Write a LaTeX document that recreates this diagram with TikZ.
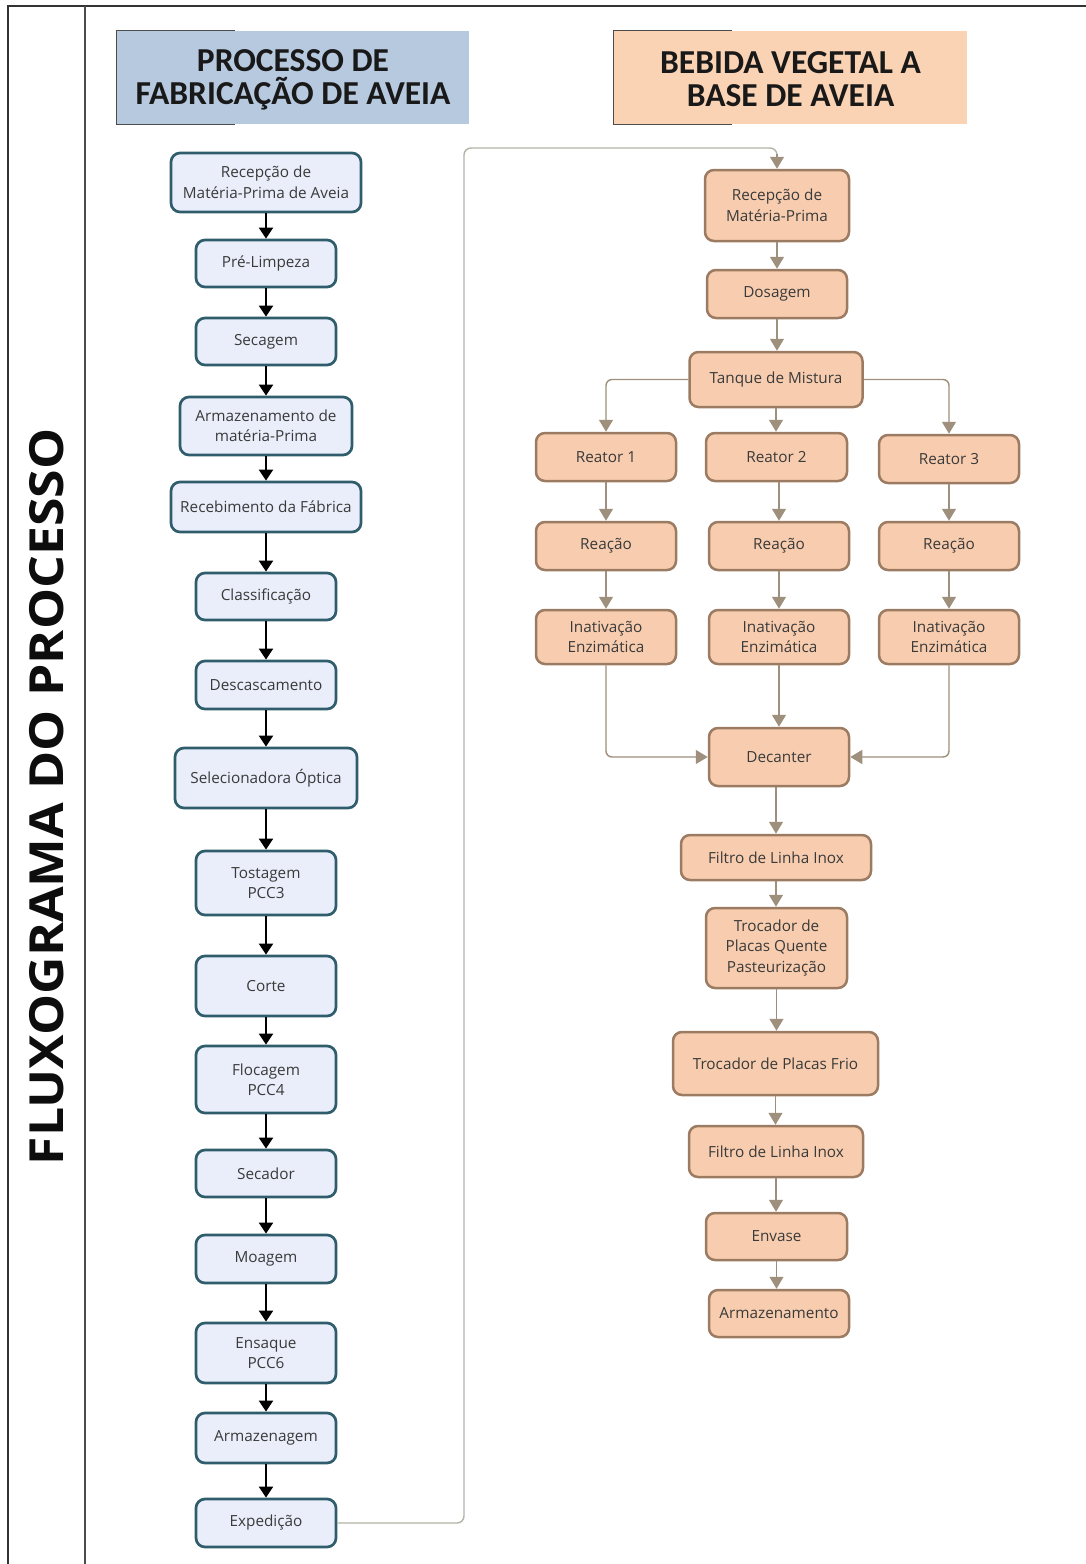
\documentclass[tikz,border=0pt]{standalone}
\usepackage{fontspec}
\setmainfont{Open Sans}
\newfontfamily\hdfont{Carlito}
\usetikzlibrary{arrows.meta}
\definecolor{lfill}{HTML}{E9EEFA}
\definecolor{ldraw}{HTML}{2F5D6B}
\definecolor{rfill}{HTML}{F8CDAF}
\definecolor{rdraw}{HTML}{9C7B63}
\definecolor{rline}{HTML}{9E907C}
\definecolor{hblue}{HTML}{B6C9DF}
\definecolor{hpeach}{HTML}{FAD3B5}
\definecolor{longline}{HTML}{B3B3A8}
\definecolor{txt}{HTML}{3A3A3A}
\tikzset{
  lbox/.style={draw=ldraw, fill=lfill, line width=2.7pt, rounded corners=9pt, align=center,
    font=\fontsize{15.3}{20.5}\selectfont, text=txt, inner sep=0pt},
  rbox/.style={draw=rdraw, fill=rfill, line width=2.5pt, rounded corners=9pt, align=center,
    font=\fontsize{15.3}{20.5}\selectfont, text=txt, inner sep=0pt},
  hdr/.style={align=center, inner sep=0pt, font=\hdfont\bfseries\fontsize{33.5}{33}\selectfont, text=black!90},
  larr/.style={black, line width=2pt, -{Triangle[width=14pt,length=11pt]}},
  rarr/.style={rline, line width=1.4pt, -{Triangle[width=14pt,length=12pt]}},
}
\begin{document}
\begin{tikzpicture}[x=1pt,y=-1pt]
\useasboundingbox (0,0) rectangle (1086,1564);
\fill[white] (0,0) rectangle (1086,1564);
% frame
\draw[black!80, line width=2pt] (8,1564) -- (8,6) -- (1086,6);
\draw[black!70, line width=2pt] (85,6) -- (85,1564);
\node[rotate=90, font=\bfseries\fontsize{47}{50}\selectfont, text=black!95] (title) at (47,797) {\scalebox{1.1}[1]{FLUXOGRAMA DO PROCESSO}};
% headers
\node[fill=hblue, minimum width=352pt, minimum height=93pt] (hl) at (293,77.5) {};
\node[hdr] (hlt) at ([yshift=-2pt]hl.center) {PROCESSO DE\\FABRICAÇÃO DE AVEIA};
\draw[black!70, line width=1pt] ([xshift=118pt]hl.north west) -- (hl.north west) -- (hl.south west) -- ([xshift=118pt]hl.south west);
\node[fill=hpeach, minimum width=353pt, minimum height=93pt] (hr) at (790.5,77.5) {};
\node[hdr] (hrt) at ([yshift=-2pt]hr.center) {BEBIDA VEGETAL A\\BASE DE AVEIA};
\draw[black!70, line width=1pt] ([xshift=118pt]hr.north west) -- (hr.north west) -- (hr.south west) -- ([xshift=118pt]hr.south west);
% left column
\node[lbox, minimum width=190pt, minimum height=59pt] (l1) at (266,182.5) {Recepção de\\Matéria-Prima de Aveia};
\node[lbox, minimum width=140pt, minimum height=47pt] (l2) at (266,263.5) {Pré-Limpeza};
\node[lbox, minimum width=140pt, minimum height=47pt] (l3) at (266,341.5) {Secagem};
\node[lbox, minimum width=172pt, minimum height=58pt] (l4) at (266,426) {Armazenamento de\\matéria-Prima};
\node[lbox, minimum width=190pt, minimum height=50pt] (l5) at (266,507) {Recebimento da Fábrica};
\node[lbox, minimum width=140pt, minimum height=47pt] (l6) at (266,596.5) {Classificação};
\node[lbox, minimum width=140pt, minimum height=48pt] (l7) at (266,685) {Descascamento};
\node[lbox, minimum width=182pt, minimum height=60pt] (l8) at (266,778) {Selecionadora Óptica};
\node[lbox, minimum width=140pt, minimum height=64pt] (l9) at (266,883) {Tostagem\\PCC3};
\node[lbox, minimum width=140pt, minimum height=60pt] (l10) at (266,986) {Corte};
\node[lbox, minimum width=140pt, minimum height=67pt] (l11) at (266,1079.5) {Flocagem\\PCC4};
\node[lbox, minimum width=140pt, minimum height=47pt] (l12) at (266,1173.5) {Secador};
\node[lbox, minimum width=140pt, minimum height=48pt] (l13) at (266,1259) {Moagem};
\node[lbox, minimum width=140pt, minimum height=60pt] (l14) at (266,1353) {Ensaque\\PCC6};
\node[lbox, minimum width=140pt, minimum height=50pt] (l15) at (266,1438) {Armazenagem};
\node[lbox, minimum width=140pt, minimum height=48pt] (l16) at (266,1523) {Expedição};
\foreach \a/\b in {l1/l2,l2/l3,l3/l4,l4/l5,l5/l6,l6/l7,l7/l8,l8/l9,l9/l10,l10/l11,l11/l12,l12/l13,l13/l14,l14/l15,l15/l16}
  \draw[larr] (\a.south) -- (\a.south |- \b.north);
% right column
\node[rbox, minimum width=144pt, minimum height=71pt] (r1) at (777,205.5) {Recepção de\\Matéria-Prima};
\node[rbox, minimum width=140pt, minimum height=48pt] (r2) at (777,294) {Dosagem};
\node[rbox, minimum width=173pt, minimum height=55pt] (r3) at (776,379.5) {Tanque de Mistura};
\node[rbox, minimum width=140pt, minimum height=48pt] (ra1) at (606,457) {Reator 1};
\node[rbox, minimum width=141pt, minimum height=48pt] (ra2) at (776.5,457) {Reator 2};
\node[rbox, minimum width=140pt, minimum height=48pt] (ra3) at (949,459) {Reator 3};
\node[rbox, minimum width=140pt, minimum height=48pt] (rb1) at (606,546) {Reação};
\node[rbox, minimum width=140pt, minimum height=48pt] (rb2) at (779,546) {Reação};
\node[rbox, minimum width=140pt, minimum height=48pt] (rb3) at (949,546) {Reação};
\node[rbox, minimum width=140pt, minimum height=54pt] (rc1) at (606,637) {Inativação\\Enzimática};
\node[rbox, minimum width=140pt, minimum height=54pt] (rc2) at (779,637) {Inativação\\Enzimática};
\node[rbox, minimum width=140pt, minimum height=54pt] (rc3) at (949,637) {Inativação\\Enzimática};
\node[rbox, minimum width=140pt, minimum height=58pt] (r4) at (779,757) {Decanter};
\node[rbox, minimum width=190pt, minimum height=45pt] (r5) at (776,857.5) {Filtro de Linha Inox};
\node[rbox, minimum width=141pt, minimum height=80pt] (r6) at (776.5,948) {Trocador de\\Placas Quente\\Pasteurização};
\node[rbox, minimum width=205pt, minimum height=63pt] (r7) at (775.5,1063.5) {Trocador de Placas Frio};
\node[rbox, minimum width=174pt, minimum height=51pt] (r8) at (776,1151.5) {Filtro de Linha Inox};
\node[rbox, minimum width=141pt, minimum height=47pt] (r9) at (776.5,1236.5) {Envase};
\node[rbox, minimum width=140pt, minimum height=47pt] (r10) at (779,1313.5) {Armazenamento};
% right connectors
\draw[rarr] (r1.south) -- (r1.south |- r2.north);
\draw[rarr] (r2.south) -- (r2.south |- r3.north);
\draw[rarr] (r3.south) -- (r3.south |- ra2.north);
\draw[rarr, rounded corners=6pt] (r3.west) -| (ra1.north);
\draw[rarr, rounded corners=6pt] (r3.east) -| (ra3.north);
\foreach \a/\b in {ra1/rb1,ra2/rb2,ra3/rb3,rb1/rc1,rb2/rc2,rb3/rc3}
  \draw[rarr] (\b.north |- \a.south) -- (\b.north);
\draw[rarr] (rc2.south) -- (rc2.south |- r4.north);
\draw[rarr, rounded corners=6pt] (rc1.south) |- (r4.west);
\draw[rarr, rounded corners=6pt] (rc3.south) |- (r4.east);
\draw[rarr] (r5.north |- r4.south) -- (r5.north);
\draw[rarr] (r5.south) -- (r5.south |- r6.north);
\draw[rarr] (r6.south) -- (r6.south |- r7.north);
\draw[rarr] (r7.south) -- (r7.south |- r8.north);
\draw[rarr] (r8.south) -- (r8.south |- r9.north);
\draw[rarr] (r9.south) -- (r9.south |- r10.north);
% long connector
\coordinate (c1) at (464,1523);
\coordinate (c2) at (464,148);
\draw[longline, line width=1.4pt, rounded corners=7pt] (l16.east) -- (c1) -- (c2) -- (r1.north |- c2) -- ([yshift=14pt]r1.north);
\draw[rarr] ([yshift=15pt]r1.north) -- (r1.north);
\end{tikzpicture}
\end{document}
